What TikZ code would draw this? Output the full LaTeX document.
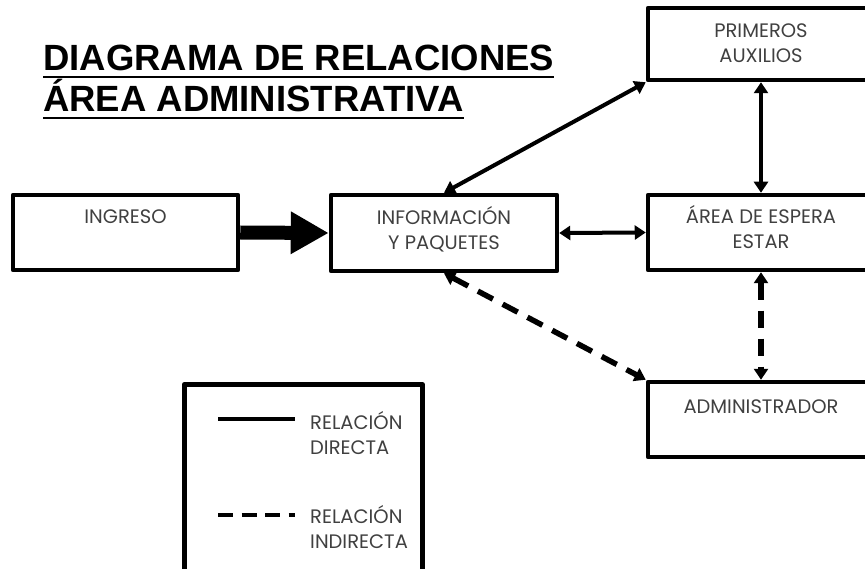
\documentclass[tikz,border=0pt]{standalone}
\usepackage{fontspec}
\setmainfont{Liberation Sans}
\newfontfamily\cadfont{Poppins}
\usetikzlibrary{arrows.meta}
\begin{document}
\begin{tikzpicture}[x=1pt,y=-1pt,
  box/.style={draw=black,line width=4.5pt,rectangle,inner sep=0pt,line join=round},
  lbl/.style={font=\cadfont\fontsize{19.5}{22}\selectfont,text=black!75,inner sep=0pt,anchor=base},
  rel/.style={line width=4pt,{Triangle[length=11pt,width=14pt]}-{Triangle[length=11pt,width=14pt]}},
  relind/.style={rel,line width=5.5pt,dash pattern=on 17pt off 11pt},
  ttl/.style={font=\bfseries\fontsize{36.5}{40}\selectfont,inner sep=0pt,anchor=base west},
  leg/.style={font=\cadfont\fontsize{19.5}{22}\selectfont,text=black!75,inner sep=0pt,anchor=base west}]
\useasboundingbox (0,0) rectangle (865,569);
\clip (0,0) rectangle (865,569);
% title
\node[ttl] (t1) at (43,71) {DIAGRAMA DE RELACIONES};
\node[ttl] (t2) at (43,112) {ÁREA ADMINISTRATIVA};
\draw[line width=2.5pt] (t1.base west) ++(0,6) coordinate (u1a) -- (u1a -| t1.base east);
\draw[line width=2.5pt] (t2.base west) ++(0,6) coordinate (u2a) -- (u2a -| t2.base east);
% boxes
\node[box,minimum width=225pt,minimum height=75pt] (ing) at (125.5,232.5) {};
\node[box,minimum width=226pt,minimum height=76pt] (info) at (444,233) {};
\node[box,minimum width=226pt,minimum height=72pt] (prim) at (761,44) {};
\node[box,minimum width=226pt,minimum height=75pt] (area) at (761,232.5) {};
\node[box,minimum width=226pt,minimum height=75pt] (adm) at (761,419.5) {};
% texts
\node[lbl] (ting) at (125.5,224) {INGRESO};
\node[lbl] (tinfo1) at (444,225) {INFORMACIÓN};
\node[lbl] (tinfo2) at (444,250) {Y PAQUETES};
\node[lbl] (tprim1) at (761,38) {PRIMEROS};
\node[lbl] (tprim2) at (761,63) {AUXILIOS};
\node[lbl] (tarea1) at (761,224) {ÁREA DE ESPERA};
\node[lbl] (tarea2) at (761,249) {ESTAR};
\node[lbl] (tadm) at (761,413) {ADMINISTRADOR};
% connectors
\draw[line width=14pt,-{Triangle[length=38pt,width=40pt]}] (ing.east) -- (info.west);
\draw[rel] (info.east) -- (area.west);
\draw[rel] (info.north) -- (prim.south west);
\draw[rel] (prim.south) -- (area.north);
\draw[relind] (area.south) -- (adm.north);
\draw[relind] (info.south) -- (adm.north west);
% legend
\node[box,minimum width=238pt,minimum height=200pt,anchor=north west] (legbox) at (182,382) {};
\coordinate (ls1) at (218,419);
\coordinate (le1) at (295,419);
\coordinate (ls2) at (218,515);
\coordinate (le2) at (295,515);
\draw[line width=4pt] (ls1) -- (le1);
\draw[line width=4pt,dash pattern=on 15pt off 8.5pt] (ls2) -- (le2);
\node[leg] (l1a) at (310,429) {RELACIÓN};
\node[leg] (l1b) at (310,454) {DIRECTA};
\node[leg] (l2a) at (310,523) {RELACIÓN};
\node[leg] (l2b) at (310,548) {INDIRECTA};
\end{tikzpicture}
\end{document}
